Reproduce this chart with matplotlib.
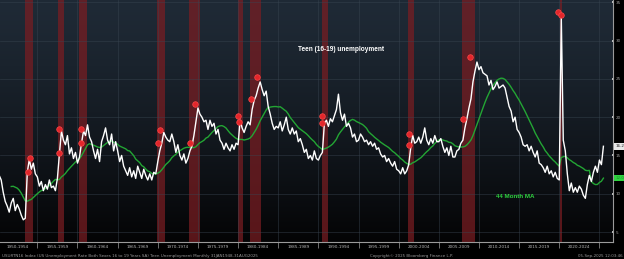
import numpy as np
import pandas as pd
import matplotlib
matplotlib.use('Agg')
import matplotlib.pyplot as plt
import matplotlib.transforms as mtransforms

# Teen (16-19) unemployment rate, quarterly readings starting 1948 Q1
start_date = '1948-01-01'
teen_rate = [
    8.6, 9.0, 9.6, 10.4,     # 1948
    12.0, 13.2, 14.2, 14.0,  # 1949
    13.6, 12.4, 11.8, 10.2,  # 1950
    9.0, 8.4, 7.6, 8.8,      # 1951
    9.4, 7.8, 8.6, 8.0,      # 1952
    7.2, 6.6, 6.8, 12.8,     # 1953
    14.5, 13.2, 14.0, 12.6,  # 1954
    12.2, 11.0, 11.6, 10.4,  # 1955
    11.2, 10.6, 11.8, 10.8,  # 1956
    11.0, 10.4, 12.0, 15.2,  # 1957
    18.2, 17.0, 16.4, 17.6,  # 1958
    15.2, 16.0, 14.6, 15.4,  # 1959
    14.0, 14.8, 16.6, 18.2,  # 1960
    17.6, 19.0, 17.4, 16.8,  # 1961
    15.6, 14.6, 15.8, 14.2,  # 1962
    16.8, 17.6, 18.6, 17.0,  # 1963
    16.4, 17.8, 15.6, 16.8,  # 1964
    15.6, 14.2, 15.0, 13.6,  # 1965
    13.0, 12.4, 13.4, 12.2,  # 1966
    13.0, 12.0, 13.6, 12.8,  # 1967
    12.0, 13.2, 12.4, 11.8,  # 1968
    12.6, 11.8, 12.8, 12.6,  # 1969
    14.2, 15.6, 16.6, 18.0,  # 1970
    17.4, 17.0, 16.8, 17.8,  # 1971
    16.8, 15.4, 16.4, 15.0,  # 1972
    14.4, 15.2, 14.0, 14.6,  # 1973
    15.6, 16.2, 17.6, 19.4,  # 1974
    21.2, 20.4, 20.0, 19.4,  # 1975
    19.6, 18.4, 19.6, 18.8,  # 1976
    19.2, 17.8, 18.4, 17.0,  # 1977
    16.6, 15.8, 16.6, 16.0,  # 1978
    15.6, 16.4, 15.8, 16.6,  # 1979
    16.4, 19.6, 18.6, 18.0,  # 1980
    18.8, 19.4, 19.0, 21.0,  # 1981
    22.2, 22.8, 23.8, 24.6,  # 1982
    23.6, 22.8, 23.4, 21.4,  # 1983
    20.4, 19.2, 18.4, 18.8,  # 1984
    18.6, 19.4, 18.2, 19.0,  # 1985
    20.0, 18.4, 17.8, 18.6,  # 1986
    17.8, 18.2, 16.8, 17.2,  # 1987
    16.4, 15.4, 15.8, 14.6,  # 1988
    15.0, 14.4, 15.6, 14.6,  # 1989
    14.4, 15.0, 15.4, 19.2,  # 1990
    19.6, 18.8, 19.8, 19.4,  # 1991
    20.2, 21.0, 23.0, 20.6,  # 1992
    19.6, 20.4, 18.8, 19.2,  # 1993
    18.6, 17.4, 17.8, 16.8,  # 1994
    17.0, 17.8, 17.4, 16.8,  # 1995
    17.0, 16.4, 16.8, 16.2,  # 1996
    16.6, 15.8, 16.0, 15.2,  # 1997
    14.8, 15.0, 14.2, 14.6,  # 1998
    14.0, 13.6, 14.2, 13.2,  # 1999
    13.0, 12.6, 13.4, 12.6,  # 2000
    13.0, 13.8, 16.0, 17.6,  # 2001
    16.6, 16.8, 17.4, 16.6,  # 2002
    17.4, 18.6, 17.0, 16.4,  # 2003
    17.2, 16.6, 17.6, 16.8,  # 2004
    16.8, 17.2, 16.2, 15.4,  # 2005
    16.0, 15.0, 16.2, 14.8,  # 2006
    14.8, 15.6, 15.8, 16.6,  # 2007
    17.0, 18.6, 19.8, 21.2,  # 2008
    22.4, 24.6, 26.0, 27.2,  # 2009
    26.2, 26.6, 25.8, 25.6,  # 2010
    25.4, 24.2, 24.8, 23.6,  # 2011
    24.0, 24.6, 23.8, 24.0,  # 2012
    24.2, 23.8, 22.6, 21.4,  # 2013
    20.8, 19.4, 20.0, 18.4,  # 2014
    18.0, 17.4, 16.4, 16.2,  # 2015
    16.4, 15.6, 16.2, 15.4,  # 2016
    14.8, 15.6, 14.0, 13.8,  # 2017
    13.4, 12.8, 13.6, 12.6,  # 2018
    13.0, 12.2, 12.8, 12.0,  # 2019
    11.8, 33.2, 17.0, 15.6,  # 2020
    12.6, 10.4, 11.4, 10.2,  # 2021
    10.8, 10.2, 11.0, 10.6,  # 2022
    9.8, 9.4, 11.2, 12.4,    # 2023
    11.6, 12.8, 13.6, 12.8,  # 2024
    14.4, 13.8, 16.2,        # 2025
]

# NBER recessions (shaded)
recession_start = ['1948-11-01', '1953-07-01', '1957-08-01', '1960-04-01', '1969-12-01', '1973-11-01',
                   '1980-01-01', '1981-07-01', '1990-07-01', '2001-03-01', '2007-12-01', '2020-02-01']
recession_end = ['1949-10-31', '1954-05-31', '1958-04-30', '1961-02-28', '1970-11-30', '1975-03-31',
                 '1980-07-31', '1982-11-30', '1991-03-31', '2001-11-30', '2009-06-30', '2020-04-30']

# red signal dots
signal_dates = ['1953-11-01', '1954-02-01', '1957-10-01', '1957-10-01', '1960-07-01', '1960-07-01',
                '1970-01-01', '1970-04-01', '1974-01-01', '1974-08-01', '1980-01-01', '1980-02-01',
                '1981-09-01', '1982-05-01', '1990-07-01', '1990-07-01', '2001-05-01', '2001-05-01',
                '2008-01-01', '2008-11-01', '2019-11-01', '2020-03-01']
signal_values = [12.8, 14.7, 15.3, 18.5, 16.6, 18.5, 16.6, 18.3, 16.6, 21.7, 20.1, 19.4,
                 22.4, 25.2, 20.2, 19.2, 17.8, 16.4, 19.8, 27.9, 33.7, 33.4]

period_labels = ['1950-1954', '1955-1959', '1960-1964', '1965-1969', '1970-1974', '1975-1979',
                 '1980-1984', '1985-1989', '1990-1994', '1995-1999', '2000-2004', '2005-2009',
                 '2010-2014', '2015-2019', '2020-2024']
y_ticks = [5, 10, 15, 20, 25, 30, 35]

dates = pd.date_range(start_date, periods=len(teen_rate), freq='QS')
rate = pd.Series(teen_rate, index=dates)
# 44 month moving average (time based window)
ma = rate.rolling('1339D').mean()
ma[ma.index < pd.Timestamp('1951-09-01')] = np.nan

fig = plt.figure(figsize=(6.24, 2.59), dpi=100, facecolor='black')
ax = fig.add_axes([0, 17 / 259, 613 / 624, 242 / 259])
ax.set_facecolor('black')

# background gradient, slate at top to black at bottom
t = np.linspace(0, 1, 256) ** 1.3
top = np.array([31, 42, 54]) / 255
bot = np.array([4, 4, 5]) / 255
grad = (top[None, :] * (1 - t[:, None]) + bot[None, :] * t[:, None])[:, None, :]
ax.imshow(grad, extent=[0, 1, 0, 1], transform=ax.transAxes, aspect='auto', zorder=0)

for s, e in zip(recession_start, recession_end):
    ax.axvspan(pd.Timestamp(s), pd.Timestamp(e), color='#7a1d22', alpha=0.72, lw=0, zorder=1)

# grid
for y in y_ticks:
    ax.axhline(y, color='#3a4652', lw=0.5, alpha=0.6, zorder=1)
bounds = [pd.Timestamp(f'{y}-01-01') for y in range(1955, 2030, 5)]
for b in bounds:
    ax.axvline(b, color='#3a4652', lw=0.5, alpha=0.6, zorder=1)

ax.plot(ma.index, ma.values, color='#23a534', lw=1.0, zorder=3)
ax.plot(rate.index, rate.values, color='white', lw=1.0, zorder=4)
ax.plot(pd.to_datetime(signal_dates), signal_values, 'o', ms=4.0, mfc='#e3262b',
        mec='#ff4a4a', mew=0.5, zorder=5)

ax.set_xlim(pd.Timestamp('1950-05-08'), pd.Timestamp('2026-09-10'))
ax.set_ylim(3.7, 35.3)

# axes styling
for side in ['left', 'top']:
    ax.spines[side].set_visible(False)
ax.spines['right'].set_color('#9a9a9a')
ax.spines['right'].set_linewidth(0.8)
ax.spines['bottom'].set_color('#9a9a9a')
ax.spines['bottom'].set_linewidth(0.8)

ax.yaxis.tick_right()
ax.set_yticks(y_ticks)
ax.set_yticklabels([str(v) for v in y_ticks])
ax.tick_params(axis='y', colors='#dddddd', labelcolor='#a0a0a0', labelsize=3,
               length=2, width=1.2, direction='inout', pad=1)

ax.set_xticks(bounds)
ax.set_xticklabels([])
ax.set_xticks([pd.Timestamp(f'{y}-07-01') for y in range(1952, 2027, 5)], minor=True)
ax.set_xticklabels(period_labels, minor=True)
ax.tick_params(axis='x', which='major', colors='#9a9a9a', length=4, width=0.5, direction='out')
ax.tick_params(axis='x', which='minor', length=0, labelsize=3, labelcolor='#b8b8b8', pad=2.5)

# annotations
ax.text(pd.Timestamp('1987-07-01'), 28.7, 'Teen (16-19) unemployment', color='white',
        fontsize=4.7, fontweight='bold', family='Liberation Sans', zorder=6)
ax.text(pd.Timestamp('2012-03-01'), 9.4, '44 Month MA', color='#2fd33f',
        fontsize=4.5, fontweight='bold', family='Liberation Sans', zorder=6)

trans = mtransforms.blended_transform_factory(ax.transAxes, ax.transData)
ax.text(1.004, rate.iloc[-1], f'{rate.iloc[-1]:.1f}', transform=trans, fontsize=3, color='#222222',
        va='center', ha='left', clip_on=False,
        bbox=dict(boxstyle='square,pad=0.3', fc='#e8e8e8', ec='none'))
ax.text(1.004, ma.iloc[-1], f'{ma.iloc[-1]:.1f}', transform=trans, fontsize=3, color='#1d8a2a',
        va='center', ha='left', clip_on=False,
        bbox=dict(boxstyle='square,pad=0.3', fc='#2fd33f', ec='none'))

# footer
fig.text(0.004, 0.008, 'USURTN16 Index (US Unemployment Rate Both Sexes 16 to 19 Years SA) '
         'Teen Unemployment Monthly 31JAN1948-31AUG2025', fontsize=2.85, color='#9a9a9a')
fig.text(0.66, 0.008, 'Copyright\u00a9 2025 Bloomberg Finance L.P.', fontsize=2.85,
         color='#9a9a9a', ha='center')
fig.text(0.997, 0.008, '05-Sep-2025 12:03:46', fontsize=2.85, color='#9a9a9a', ha='right')

fig.savefig('out.png', dpi=100, facecolor='black')
